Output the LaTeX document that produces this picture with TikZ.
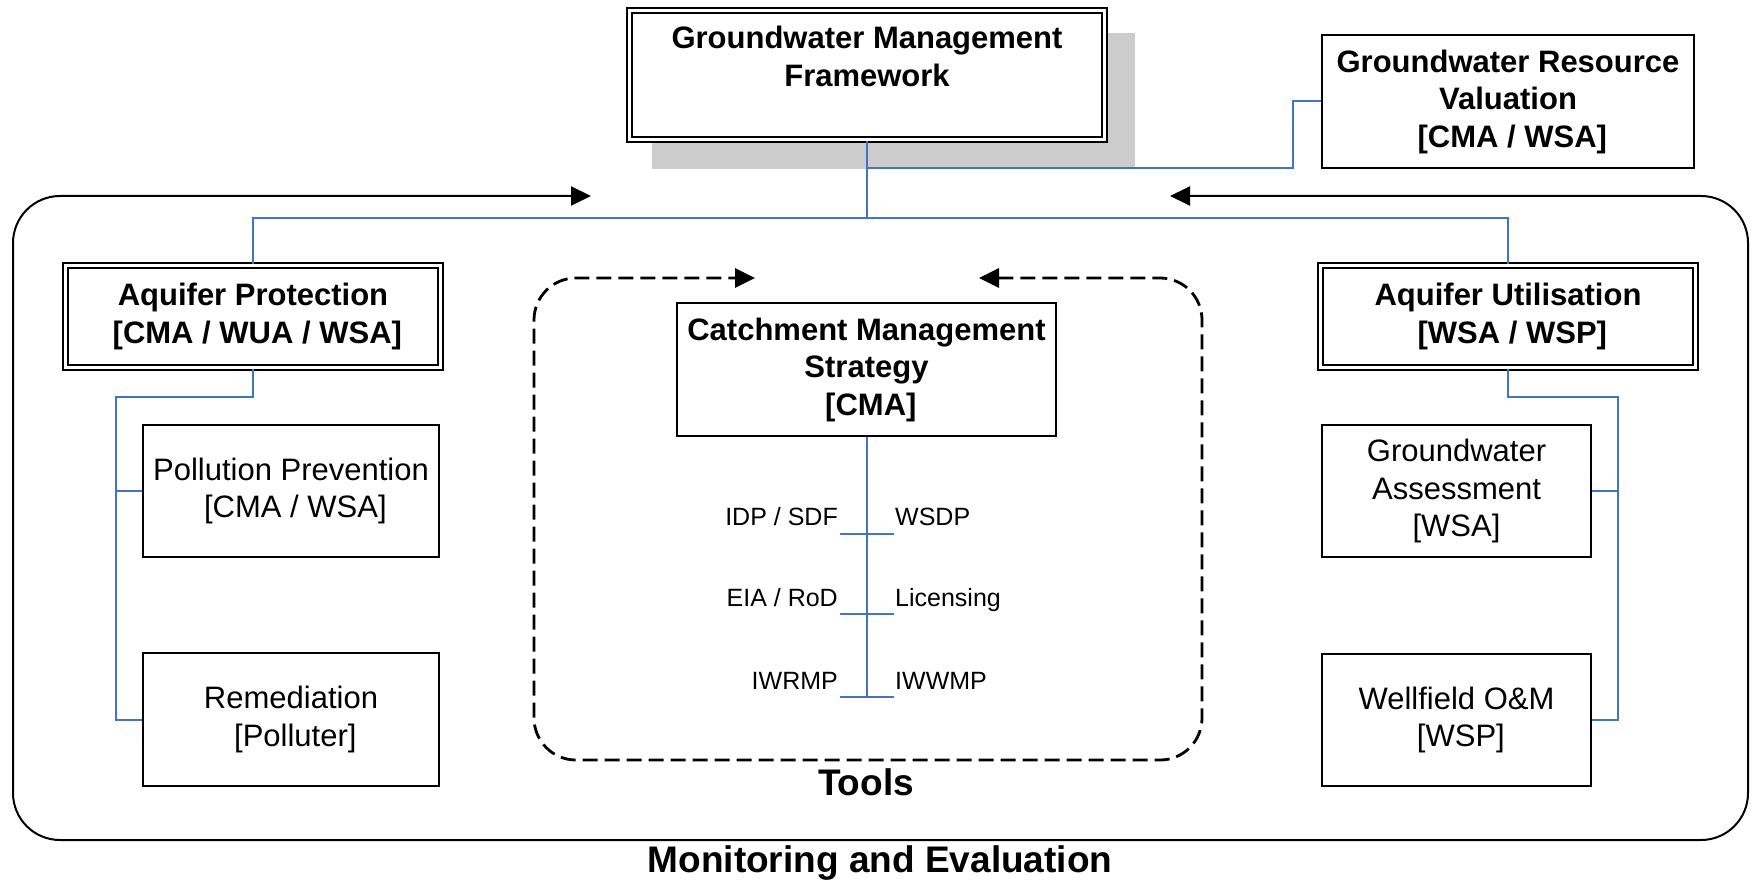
\documentclass[tikz,border=0pt]{standalone}
\usepackage{fontspec}
\setmainfont{Liberation Sans}
\usetikzlibrary{arrows.meta}
\definecolor{bluel}{HTML}{4472C4}
\definecolor{shadowgray}{HTML}{CCCCCC}
\newcommand{\ldsp}{\hspace*{0.28em}}
\begin{document}
\begin{tikzpicture}[x=1pt,y=-1pt,
  boxtext/.style={font=\fontsize{31}{37.5}\selectfont, align=center, inner sep=0pt},
  plainbox/.style={boxtext, draw, line width=2.2pt, fill=white},
  boldbox/.style={plainbox, font=\fontsize{31}{37.5}\selectfont\bfseries},
  dblbox/.style={boxtext, draw, double, double distance=2.5pt, line width=2.2pt, fill=white, font=\fontsize{31}{37.5}\selectfont\bfseries},
  conn/.style={draw=bluel, line width=2pt},
  toollabel/.style={font=\fontsize{25}{30}\selectfont, inner sep=0pt},
  bigtitle/.style={font=\fontsize{37}{44}\selectfont\bfseries, inner sep=0pt},
  tiparrows/.style={{Triangle[length=20pt,width=19pt]}-{Triangle[length=20pt,width=19pt]}}
]
\useasboundingbox (0,0) rectangle (1752,882);

% shadow of the framework box
\fill[shadowgray] (652,33) rectangle (1135,169);

% boxes
\node[dblbox, minimum width=475pt, minimum height=129pt] (gmf) at (867,75) {Groundwater Management\\Framework\\~};
\node[boldbox, minimum width=372pt, minimum height=133pt] (val) at (1508,101.5) {Groundwater Resource\\Valuation\\\ldsp[CMA / WSA]};
\node[dblbox, minimum width=375pt, minimum height=102pt] (ap) at (253,316.5) {Aquifer Protection\\\ldsp[CMA / WUA / WSA]};
\node[dblbox, minimum width=375pt, minimum height=102pt] (au) at (1508,316.5) {Aquifer Utilisation\\\ldsp[WSA / WSP]};
\node[boldbox, minimum width=379pt, minimum height=133pt] (cms) at (866.5,369.5) {Catchment Management\\Strategy\\\ldsp[CMA]};
\node[plainbox, minimum width=296pt, minimum height=132pt] (pp) at (291,491) {Pollution Prevention\\\ldsp[CMA / WSA]};
\node[plainbox, minimum width=296pt, minimum height=133pt] (rem) at (291,719.5) {Remediation\\\ldsp[Polluter]};
\node[plainbox, minimum width=269pt, minimum height=132pt] (ga) at (1456.5,491) {Groundwater\\Assessment\\\relax[WSA]};
\node[plainbox, minimum width=269pt, minimum height=132pt] (wf) at (1456.5,720) {Wellfield O\&M\\\ldsp[WSP]};

% blue connectors
\coordinate (hub) at (867,218);
\coordinate (vb) at (867,168);
\coordinate (valbend) at (1293,101.5);
\draw[conn] (gmf.south) -- (hub);
\draw[conn] (ap.north) |- (hub) -| (au.north);
\draw[conn] (vb) -| (valbend) -- (val.west);

\coordinate (apj) at (116,397);
\draw[conn] (ap.south) |- (apj) |- (rem.west);
\draw[conn] (apj) |- (pp.west);
\coordinate (auj) at (1618,397);
\draw[conn] (au.south) |- (auj) |- (wf.east);
\draw[conn] (auj) |- (ga.east);

% tools stem
\coordinate (t1) at (866.5,534);
\coordinate (t2) at (866.5,614);
\coordinate (t3) at (866.5,697);
\draw[conn] (cms.south) -- (t3);
\foreach \t in {t1,t2,t3} \draw[conn] ([xshift=-27pt]\t) -- ([xshift=27pt]\t);
\node[toollabel, anchor=base east] (idp) at (838,525) {IDP / SDF};
\node[toollabel, anchor=base west] (wsdp) at (895,525) {WSDP};
\node[toollabel, anchor=base east] (eia) at (838,606) {EIA / RoD};
\node[toollabel, anchor=base west] (lic) at (895,606) {Licensing};
\node[toollabel, anchor=base east] (iwrmp) at (838,689) {IWRMP};
\node[toollabel, anchor=base west] (iwwmp) at (895,689) {IWWMP};

% frames
\draw[line width=2pt, rounded corners=47pt, tiparrows] (1170,196) -- (1748,196) -- (1748,840) -- (13,840) -- (13,196) -- (591,196);
\draw[line width=2.8pt, dash pattern=on 15pt off 7pt, rounded corners=42pt, tiparrows] (979,278) -- (1202,278) -- (1202,760) -- (534,760) -- (534,278) -- (755,278);

\node[bigtitle] (tools) at (866,782) {Tools};
\node[bigtitle] (me) at (880,863) {Monitoring and Evaluation};
\end{tikzpicture}
\end{document}
